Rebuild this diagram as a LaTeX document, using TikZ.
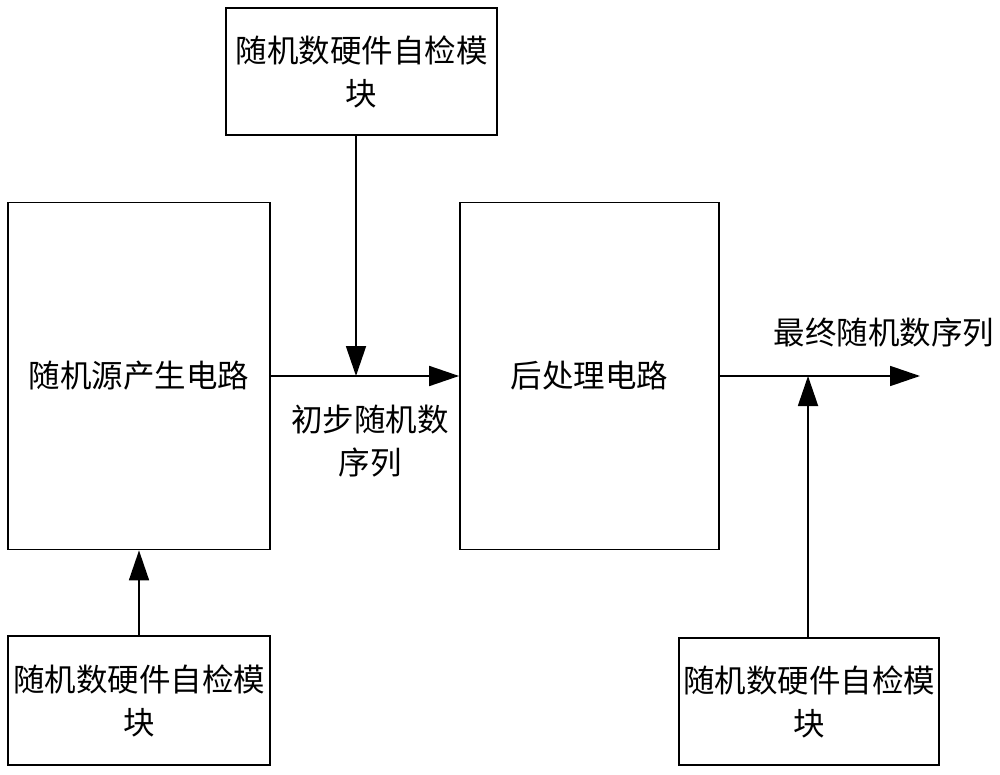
\documentclass[tikz,border=0pt]{standalone}
\usepackage{fontspec}
\newfontfamily\cjk{Noto Sans CJK SC}
\usetikzlibrary{arrows.meta}
\begin{document}
\begin{tikzpicture}[x=1pt,y=-1pt,
  box/.style={draw,line width=1.8pt,inner sep=0pt,align=center},
  lbl/.style={align=center,inner sep=0pt},
  arr/.style={line width=1.8pt,-{Triangle[length=30pt,width=20pt]}},
  every node/.style={font=\cjk\fontsize{31.5}{43}\selectfont}]
\useasboundingbox (0,0) rectangle (1000,775);
\node[box,minimum width=271pt,minimum height=127pt] (top) at (361.5,71.5) {随机数硬件自检模\\块};
\node[box,minimum width=262pt,minimum height=347pt] (left) at (139,376) {随机源产生电路};
\node[box,minimum width=259pt,minimum height=347pt] (mid) at (589.5,376) {后处理电路};
\node[box,minimum width=262pt,minimum height=129pt] (bl) at (139,700.5) {随机数硬件自检模\\块};
\node[box,minimum width=260pt,minimum height=127pt] (br) at (809,701.5) {随机数硬件自检模\\块};
\coordinate (j1) at (356,376);
\coordinate (j2) at (808,376);
\coordinate (out) at (920,376);
\draw[arr] (left.east) -- (mid.west);
\draw[arr] (top.south -| j1) -- (j1);
\draw[arr] (mid.east) -- (out);
\draw[arr] (br.north -| j2) -- (j2);
\draw[arr] (bl.north) -- (left.south);
\node[lbl] (l1) at (370,441) {初步随机数\\序列};
\node[lbl] (l2) at (884,333) {最终随机数序列};
\end{tikzpicture}
\end{document}
